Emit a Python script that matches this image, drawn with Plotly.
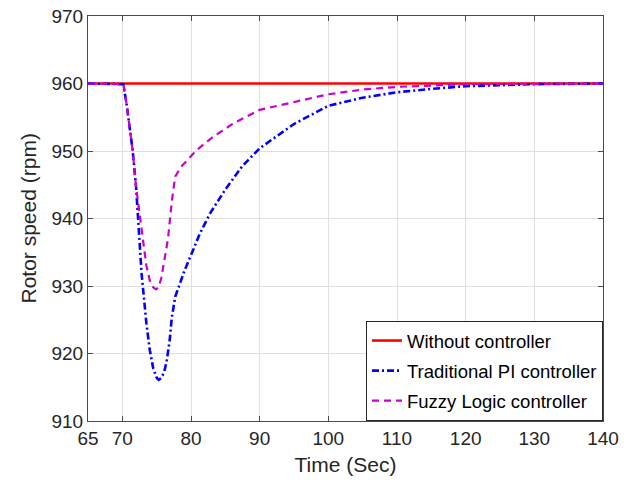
import plotly.graph_objects as go

# Time axis (s) and rotor speed (rpm)
t_none = [65, 140]
w_none = [960, 960]

t_pi = [65, 70, 70.15, 70.6, 71.1, 71.5, 72.0, 72.8, 73.5, 74.0, 74.5, 75.0, 75.3, 75.7,
        76.1, 76.45, 76.9, 77.2, 77.7, 78.4, 79.1, 80.1, 81.3, 82.8, 84.0, 85, 87.5, 90,
        95, 100, 105, 110, 115, 120, 130, 140]
w_pi = [960, 960, 959.9, 957.1, 953.6, 950.1, 944.7, 931.9, 924.5, 920.5, 917.8, 916.4,
        916.1, 916.4, 917.3, 918.8, 922.0, 925.3, 928.4, 930.4, 932.4, 934.8, 937.8,
        940.8, 942.7, 944.3, 947.8, 950.4, 954.0, 956.7, 957.9, 958.7, 959.2, 959.6,
        959.9, 960]

t_fz = [65, 70, 70.15, 70.6, 71.1, 71.5, 72.0, 73.0, 73.5, 74.0, 74.5, 74.9, 75.3, 75.7,
        76.2, 76.65, 77.2, 77.7, 78.5, 80.8, 83.2, 86.2, 90, 95.4, 100, 105, 110,
        120, 130, 140]
w_fz = [960, 960, 959.9, 957.1, 953.6, 950.1, 944.7, 936.8, 933.0, 930.8, 929.8, 929.5,
        929.8, 931.3, 934.5, 937.0, 942.5, 946.2, 947.6, 950.1, 952.1, 954.1, 956.1,
        957.4, 958.4, 959.1, 959.5, 959.9, 960, 960]

x_ticks = [65, 70, 80, 90, 100, 110, 120, 130, 140]
y_ticks = [910, 920, 930, 940, 950, 960, 970]

FONT = "Liberation Sans, Arial, sans-serif"
AXC = "#4a4a4a"
TXT = "#262626"

fig = go.Figure()
fig.add_trace(go.Scatter(x=t_none, y=w_none, mode="lines", name="Without controller",
                         legendgroup="a",
                         line=dict(color="#ff0000", width=2.6)))
fig.add_trace(go.Scatter(x=t_pi, y=w_pi, mode="lines", name="Traditional PI controller",
                         legendgroup="b",
                         line=dict(color="#0000ff", width=2.6, dash="7px,3px,2px,3px")))
fig.add_trace(go.Scatter(x=t_fz, y=w_fz, mode="lines", name="Fuzzy Logic controller",
                         legendgroup="c",
                         line=dict(color="#cc00cc", width=2.2, dash="7px,5px")))

axis_common = dict(
    showgrid=True, gridcolor="#e0e0e0", gridwidth=1,
    showline=True, linecolor=AXC, linewidth=1, mirror="ticks",
    ticks="inside", ticklen=5, tickcolor=AXC, tickwidth=1,
    zeroline=False, automargin=False,
    tickfont=dict(family=FONT, size=19, color=TXT),
)

fig.update_xaxes(range=[65, 140], tickvals=x_ticks, ticktext=[str(v) for v in x_ticks],
                 title=dict(text="Time (Sec)", font=dict(family=FONT, size=21, color=TXT),
                            standoff=9),
                 **axis_common)
fig.update_yaxes(range=[910, 970], tickvals=y_ticks, ticktext=[str(v) for v in y_ticks],
                 **axis_common)

fig.add_annotation(text="Rotor speed (rpm)", xref="paper", yref="paper", x=0, y=0.5,
                   xanchor="center", yanchor="middle", xshift=-60, textangle=-90,
                   showarrow=False, font=dict(family=FONT, size=21, color=TXT))

fig.update_layout(
    width=630, height=481,
    margin=dict(l=88, r=27, t=16, b=60),
    paper_bgcolor="white", plot_bgcolor="white",
    font=dict(family=FONT, color=TXT),
    legend=dict(x=1, y=0, xanchor="right", yanchor="bottom",
                bgcolor="white", bordercolor="#262626", borderwidth=1,
                font=dict(family=FONT, size=18.5, color="#000000"),
                itemwidth=30, tracegroupgap=3),
    showlegend=True,
)

fig.write_html("out.html")
